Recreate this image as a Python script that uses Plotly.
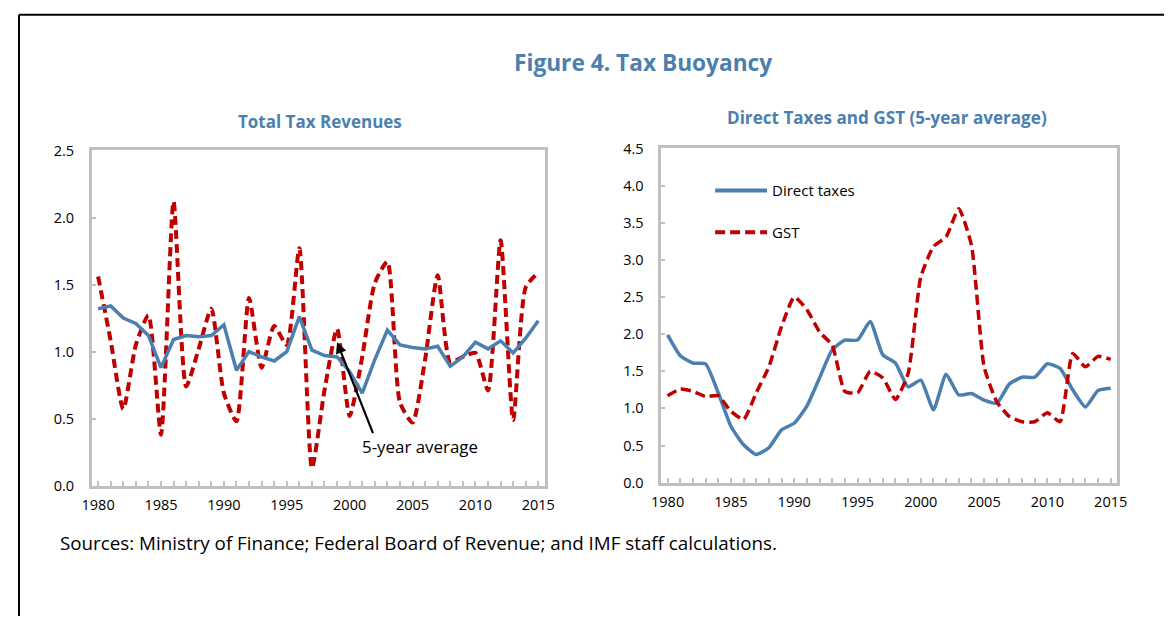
import plotly.graph_objects as go
from plotly.subplots import make_subplots

years = list(range(1980, 2016))

# Total tax revenues buoyancy (annual) and 5-year average
total_annual = [1.56, 1.08, 0.57, 1.05, 1.27, 0.38, 2.12, 0.74, 1.02, 1.32,
                0.69, 0.48, 1.40, 0.88, 1.19, 1.05, 1.77, 0.13, 0.71, 1.17,
                0.52, 0.96, 1.51, 1.67, 0.62, 0.47, 0.94, 1.57, 0.92, 0.96,
                0.99, 0.71, 1.83, 0.49, 1.48, 1.59]
total_avg = [1.32, 1.34, 1.25, 1.21, 1.12, 0.88, 1.09, 1.12, 1.11, 1.12,
             1.20, 0.86, 1.00, 0.96, 0.93, 1.00, 1.26, 1.01, 0.97, 0.96,
             0.85, 0.69, 0.94, 1.16, 1.05, 1.03, 1.02, 1.04, 0.89, 0.96,
             1.07, 1.02, 1.08, 0.99, 1.10, 1.23]

# Direct taxes and GST (5-year average)
direct_taxes = [1.99, 1.71, 1.61, 1.60, 1.21, 0.76, 0.51, 0.38, 0.47, 0.71,
                0.80, 1.03, 1.41, 1.79, 1.92, 1.92, 2.17, 1.72, 1.61, 1.29,
                1.38, 0.98, 1.46, 1.18, 1.20, 1.11, 1.07, 1.33, 1.42, 1.42,
                1.60, 1.54, 1.25, 1.02, 1.24, 1.27]
gst = [1.17, 1.26, 1.23, 1.16, 1.17, 0.96, 0.85, 1.21, 1.56, 2.10,
       2.50, 2.33, 2.03, 1.85, 1.23, 1.21, 1.50, 1.41, 1.12, 1.47,
       2.77, 3.18, 3.31, 3.69, 3.20, 1.56, 1.09, 0.89, 0.82, 0.82,
       0.94, 0.82, 1.74, 1.56, 1.70, 1.66]

left_yticks = [0.0, 0.5, 1.0, 1.5, 2.0, 2.5]
right_yticks = [0.0, 0.5, 1.0, 1.5, 2.0, 2.5, 3.0, 3.5, 4.0, 4.5]
xtick_years = [1980, 1985, 1990, 1995, 2000, 2005, 2010, 2015]

W, H = 1172, 617
BLUE = "#4a7fb0"
RED = "#c00000"
TITLE_BLUE = "#4d7fae"
AXIS_GRAY = "#bfbfbf"
FONT = "Open Sans"


def px(x):
    # target picture x -> paper fraction (compensates for page offset/scale)
    return ((x - 9.1) / 0.9856 - 8) / W


def py(y):
    return 1 - ((y - 9.4) / 0.9717 - 8) / H


fig = make_subplots(rows=1, cols=2)

fig.add_trace(go.Scatter(x=years, y=total_annual, mode="lines",
                         line=dict(color=RED, width=4, dash="9px,5px", shape="spline", smoothing=0.6),
                         showlegend=False), row=1, col=1)
fig.add_trace(go.Scatter(x=years, y=total_avg, mode="lines",
                         line=dict(color=BLUE, width=3.5),
                         showlegend=False), row=1, col=1)
fig.add_trace(go.Scatter(x=years, y=direct_taxes, mode="lines", name="Direct taxes",
                         line=dict(color=BLUE, width=3.5, shape="spline", smoothing=0.5),
                         showlegend=False), row=1, col=2)
fig.add_trace(go.Scatter(x=years, y=gst, mode="lines", name="GST",
                         line=dict(color=RED, width=3.5, dash="10px,5px", shape="spline", smoothing=0.5),
                         showlegend=False), row=1, col=2)

axis_common = dict(showline=True, linecolor=AXIS_GRAY, linewidth=2.5, mirror=True,
                   showgrid=False, zeroline=False,
                   tickfont=dict(family=FONT, size=14.5, color="black"))

fig.update_xaxes(**axis_common, range=[1979.5, 2015.5], tickvals=xtick_years,
                 ticktext=[str(v) for v in xtick_years],
                 ticks="inside", ticklen=5, tickcolor=AXIS_GRAY, tickwidth=2,
                 minor=dict(dtick=1, tick0=1980, ticks="inside", ticklen=5,
                            tickcolor=AXIS_GRAY, tickwidth=2),
                 ticklabelstandoff=4)
fig.update_yaxes(**axis_common, ticks="inside", ticklen=4, tickcolor=AXIS_GRAY, tickwidth=2,
                 tickformat=".1f", ticklabelstandoff=12)

fig.update_xaxes(domain=[px(91), px(545)], row=1, col=1)
fig.update_yaxes(domain=[py(486), py(150)], range=[0, 2.5], tickvals=left_yticks, row=1, col=1)
fig.update_xaxes(domain=[px(662), px(1119)], row=1, col=2)
fig.update_yaxes(domain=[py(483), py(148)], range=[0, 4.5], tickvals=right_yticks, row=1, col=2)

annotations = [
    dict(text="<b>Figure 4. Tax Buoyancy</b>", x=px(644), y=py(62), xref="paper", yref="paper",
         showarrow=False, font=dict(family=FONT, size=22.7, color=TITLE_BLUE),
         xanchor="center", yanchor="middle"),
    dict(text="<b>Total Tax Revenues</b>", x=px(320), y=py(121), xref="paper", yref="paper",
         showarrow=False, font=dict(family=FONT, size=17, color=TITLE_BLUE),
         xanchor="center", yanchor="middle"),
    dict(text="<b>Direct Taxes and GST (5-year average)</b>", x=px(888), y=py(117), xref="paper",
         yref="paper", showarrow=False, font=dict(family=FONT, size=17.1, color=TITLE_BLUE),
         xanchor="center", yanchor="middle"),
    dict(text="Sources: Ministry of Finance; Federal Board of Revenue; and IMF staff calculations.",
         x=px(57), y=py(544), xref="paper", yref="paper", showarrow=False,
         font=dict(family=FONT, size=18.8, color="black"), xanchor="left", yanchor="middle"),
    # arrow pointing to 5-year average
    dict(text="", x=1999, y=1.07, xref="x", yref="y", ax=2001.9, ay=0.38, axref="x", ayref="y",
         showarrow=True, arrowhead=2, arrowsize=1, arrowwidth=2.2, arrowcolor="black"),
    dict(text="5-year average", x=2005.6, y=0.29, xref="x", yref="y", showarrow=False,
         font=dict(family=FONT, size=16.9, color="black"), xanchor="center", yanchor="middle"),
    # manual legend text
    dict(text="Direct taxes", x=px(771), y=py(190), xref="paper", yref="paper", showarrow=False,
         font=dict(family=FONT, size=15, color="black"), xanchor="left", yanchor="middle"),
    dict(text="GST", x=px(771), y=py(232), xref="paper", yref="paper", showarrow=False,
         font=dict(family=FONT, size=15, color="black"), xanchor="left", yanchor="middle"),
]

shapes = [
    # page border
    dict(type="line", xref="paper", yref="paper", x0=1 / W, y0=py(14), x1=1.0, y1=py(14),
         line=dict(color="black", width=2)),
    dict(type="line", xref="paper", yref="paper", x0=1 / W, y0=py(14), x1=1 / W, y1=0,
         line=dict(color="black", width=2)),
    # manual legend samples
    dict(type="line", xref="paper", yref="paper", x0=px(716), y0=py(190), x1=px(768), y1=py(190),
         line=dict(color=BLUE, width=4)),
    dict(type="line", xref="paper", yref="paper", x0=px(716), y0=py(232), x1=px(768), y1=py(232),
         line=dict(color=RED, width=4, dash="10px,5px")),
]

fig.update_layout(width=W, height=H, margin=dict(l=0, r=0, t=0, b=0),
                  paper_bgcolor="white", plot_bgcolor="white",
                  annotations=annotations, shapes=shapes, showlegend=False,
                  font=dict(family=FONT))

fig.write_html("out.html")
